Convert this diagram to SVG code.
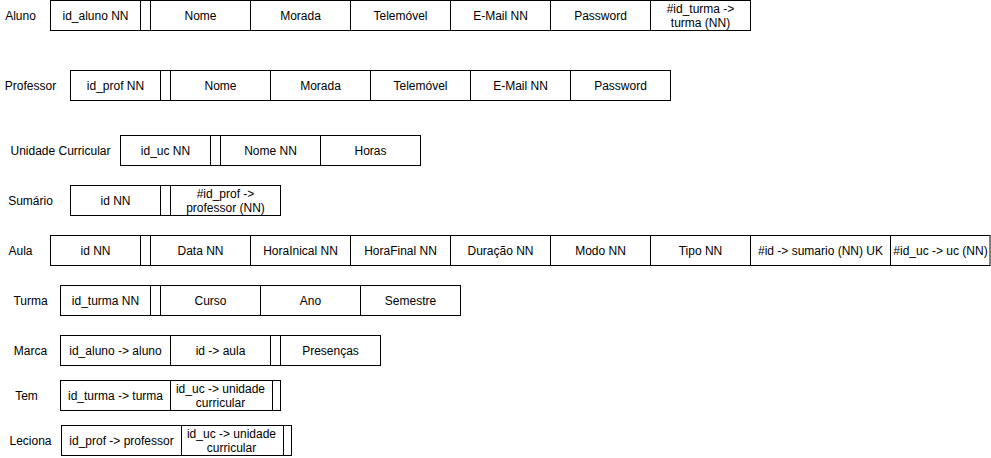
<svg xmlns="http://www.w3.org/2000/svg" width="991" height="458" viewBox="0 0 991 458">
<style>
.c{fill:#fff;stroke:#000;stroke-width:1}
text{font-family:"Liberation Sans",Arial,sans-serif;font-size:12px;fill:#000;text-anchor:middle;dominant-baseline:central}
</style>
<rect x="0" y="0" width="991" height="458" fill="#fff"/>
<g transform="translate(0.5,0.5)">
<g id="aluno">
<text x="20" y="15">Aluno</text>
<rect class="c" x="50" y="0" width="90" height="30"/><text x="95" y="15">id_aluno NN</text>
<rect class="c" x="140" y="0" width="10" height="30"/>
<rect class="c" x="150" y="0" width="100" height="30"/><text x="200" y="15">Nome</text>
<rect class="c" x="250" y="0" width="100" height="30"/><text x="300" y="15">Morada</text>
<rect class="c" x="350" y="0" width="100" height="30"/><text x="400" y="15">Telemóvel</text>
<rect class="c" x="450" y="0" width="100" height="30"/><text x="500" y="15">E-Mail NN</text>
<rect class="c" x="550" y="0" width="100" height="30"/><text x="600" y="15">Password</text>
<rect class="c" x="650" y="0" width="100" height="30"/><text x="700" y="8">#id_turma -&gt;</text><text x="700" y="22">turma (NN)</text>
</g>
<g id="professor">
<text x="30" y="85">Professor</text>
<rect class="c" x="70" y="70" width="90" height="30"/><text x="115" y="85">id_prof NN</text>
<rect class="c" x="160" y="70" width="10" height="30"/>
<rect class="c" x="170" y="70" width="100" height="30"/><text x="220" y="85">Nome</text>
<rect class="c" x="270" y="70" width="100" height="30"/><text x="320" y="85">Morada</text>
<rect class="c" x="370" y="70" width="100" height="30"/><text x="420" y="85">Telemóvel</text>
<rect class="c" x="470" y="70" width="100" height="30"/><text x="520" y="85">E-Mail NN</text>
<rect class="c" x="570" y="70" width="100" height="30"/><text x="620" y="85">Password</text>
</g>
<g id="uc">
<text x="60" y="150">Unidade Curricular</text>
<rect class="c" x="120" y="135" width="90" height="30"/><text x="165" y="150">id_uc NN</text>
<rect class="c" x="210" y="135" width="10" height="30"/>
<rect class="c" x="220" y="135" width="100" height="30"/><text x="270" y="150">Nome NN</text>
<rect class="c" x="320" y="135" width="100" height="30"/><text x="370" y="150">Horas</text>
</g>
<g id="sumario">
<text x="30" y="200">Sumário</text>
<rect class="c" x="70" y="185" width="90" height="30"/><text x="115" y="200">id NN</text>
<rect class="c" x="160" y="185" width="10" height="30"/>
<rect class="c" x="170" y="185" width="110" height="30"/><text x="225" y="193">#id_prof -&gt;</text><text x="225" y="207">professor (NN)</text>
</g>
<g id="aula">
<text x="20" y="250">Aula</text>
<rect class="c" x="50" y="235" width="90" height="30"/><text x="95" y="250">id NN</text>
<rect class="c" x="140" y="235" width="10" height="30"/>
<rect class="c" x="150" y="235" width="100" height="30"/><text x="200" y="250">Data NN</text>
<rect class="c" x="250" y="235" width="100" height="30"/><text x="300" y="250">HoraInical NN</text>
<rect class="c" x="350" y="235" width="100" height="30"/><text x="400" y="250">HoraFinal NN</text>
<rect class="c" x="450" y="235" width="100" height="30"/><text x="500" y="250">Duração NN</text>
<rect class="c" x="550" y="235" width="100" height="30"/><text x="600" y="250">Modo NN</text>
<rect class="c" x="650" y="235" width="100" height="30"/><text x="700" y="250">Tipo NN</text>
<rect class="c" x="750" y="235" width="140" height="30"/><text x="820" y="250">#id -&gt; sumario (NN) UK</text>
<rect class="c" x="890" y="235" width="99.5" height="30"/><text x="940" y="250">#id_uc -&gt; uc (NN)</text>
</g>
<g id="turma">
<text x="30" y="300">Turma</text>
<rect class="c" x="60" y="285" width="90" height="30"/><text x="105" y="300">id_turma NN</text>
<rect class="c" x="150" y="285" width="10" height="30"/>
<rect class="c" x="160" y="285" width="100" height="30"/><text x="210" y="300">Curso</text>
<rect class="c" x="260" y="285" width="100" height="30"/><text x="310" y="300">Ano</text>
<rect class="c" x="360" y="285" width="100" height="30"/><text x="410" y="300">Semestre</text>
</g>
<g id="marca">
<text x="30" y="350">Marca</text>
<rect class="c" x="60" y="335" width="110" height="30"/><text x="115" y="350">id_aluno -&gt; aluno</text>
<rect class="c" x="170" y="335" width="100" height="30"/><text x="220" y="350">id -&gt; aula</text>
<rect class="c" x="270" y="335" width="10" height="30"/>
<rect class="c" x="280" y="335" width="100" height="30"/><text x="330" y="350">Presenças</text>
</g>
<g id="tem">
<text x="26" y="395">Tem</text>
<rect class="c" x="60" y="380" width="110" height="30"/><text x="115" y="395">id_turma -&gt; turma</text>
<rect class="c" x="170" y="380" width="102" height="30"/><text x="220" y="388">id_uc -&gt; unidade</text><text x="220" y="402">curricular</text>
<rect class="c" x="272" y="380" width="8" height="30"/>
</g>
<g id="leciona">
<text x="30" y="440">Leciona</text>
<rect class="c" x="61" y="425" width="120" height="30"/><text x="121" y="440">id_prof -&gt; professor</text>
<rect class="c" x="181" y="425" width="102" height="30"/><text x="231" y="433">id_uc -&gt; unidade</text><text x="231" y="447">curricular</text>
<rect class="c" x="283" y="425" width="8" height="30"/>
</g>
<g id="connectors"></g>
</g>
</svg>
